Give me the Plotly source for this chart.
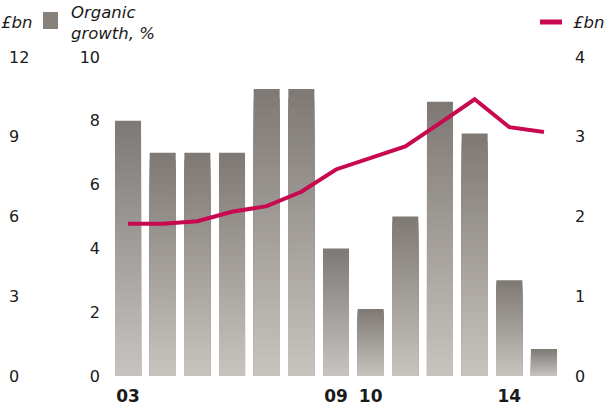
import plotly.graph_objects as go

years = ["03","04","05","06","07","08","09","10","11","12","13","14","15"]
tick_years = ["03","09","10","14"]
organic_growth = [8.0, 7.0, 7.0, 7.0, 9.0, 9.0, 4.0, 2.1, 5.0, 8.6, 7.6, 3.0, 0.85]
gbn_line = [1.91, 1.91, 1.94, 2.06, 2.13, 2.31, 2.59, 2.73, 2.88, 3.17, 3.47, 3.12, 3.06]

W, H = 605, 407
def px(x): return x / W
def py(y): return 1 - y / H

fig = go.Figure()

# bars with vertical gradient (dark top -> light bottom), built by overlaying shrinking bars
N = 30
top_rgb = (0x7f, 0x7a, 0x75)
bot_rgb = (0xc6, 0xc2, 0xbe)
for k in range(N):
    f = 1 - k / N  # fraction of bar height
    t = k / (N - 1)
    c = tuple(round(top_rgb[i] + (bot_rgb[i] - top_rgb[i]) * t) for i in range(3))
    fig.add_trace(go.Bar(
        x=years, y=[v * f for v in organic_growth],
        marker=dict(color="rgb(%d,%d,%d)" % c, line=dict(width=0)),
        xaxis="x", yaxis="y", showlegend=False, hoverinfo="skip"))

fig.add_trace(go.Scatter(
    x=years, y=gbn_line, mode="lines",
    line=dict(color="#c8084f", width=4),
    xaxis="x", yaxis="y2", showlegend=False))

y0, y1 = py(376), py(57)
font = dict(family="DejaVu Sans", size=16, color="#1a1a1a")
common = dict(showgrid=False, showline=False, zeroline=False, ticks="",
              tickfont=font, automargin=False, fixedrange=True)

fig.update_layout(
    width=W, height=H, margin=dict(l=0, r=0, t=0, b=0, autoexpand=False),
    paper_bgcolor="white", plot_bgcolor="white",
    barmode="overlay", bargap=0.25,
    xaxis=dict(domain=[px(110.7), px(561.3)], type="category",
               categoryorder="array", categoryarray=years,
               tickvals=tick_years, ticktext=["<b>%s</b>" % t for t in tick_years],
               showgrid=False, showline=False, zeroline=False, ticks="",
               tickfont=dict(family="DejaVu Sans", size=17, color="#1a1a1a"),
               ticklabelstandoff=8, automargin=False,
               range=[-0.5, 12.5], fixedrange=True),
    yaxis=dict(domain=[y0, y1], range=[0, 10], tickvals=[0, 2, 4, 6, 8, 10],
               anchor="free", position=px(100), side="left", **common),
    yaxis2=dict(domain=[y0, y1], range=[0, 4], tickvals=[0, 1, 2, 3, 4],
                overlaying="y", anchor="free", position=px(574), side="right", **common),
    yaxis3=dict(domain=[y0, y1], range=[0, 12], tickvals=[0, 3, 6, 9, 12],
                overlaying="y", anchor="free", position=px(8), side="right", **common),
)
# invisible trace so the £bn (left) axis is drawn
fig.add_trace(go.Scatter(x=[years[0]], y=[None], yaxis="y3", xaxis="x",
                         showlegend=False, hoverinfo="skip"))

ifont = dict(family="DejaVu Sans", size=16.5, color="#1a1a1a")
fig.add_annotation(x=px(-1), y=py(22), xref="paper", yref="paper", text="<i>£bn</i>",
                   showarrow=False, xanchor="left", yanchor="middle", font=ifont)
fig.add_annotation(x=px(69), y=py(23), xref="paper", yref="paper",
                   text="<i>Organic<br>growth, %</i>", align="left",
                   showarrow=False, xanchor="left", yanchor="middle", font=ifont)
fig.add_annotation(x=px(571), y=py(22), xref="paper", yref="paper", text="<i>£bn</i>",
                   showarrow=False, xanchor="left", yanchor="middle", font=ifont)
fig.add_shape(type="rect", xref="paper", yref="paper",
              x0=px(43), x1=px(58), y0=py(29), y1=py(12),
              fillcolor="#858079", line=dict(width=0))
fig.add_shape(type="line", xref="paper", yref="paper",
              x0=px(540), x1=px(562), y0=py(22), y1=py(22),
              line=dict(color="#c8084f", width=5))

fig.write_html("out.html")
